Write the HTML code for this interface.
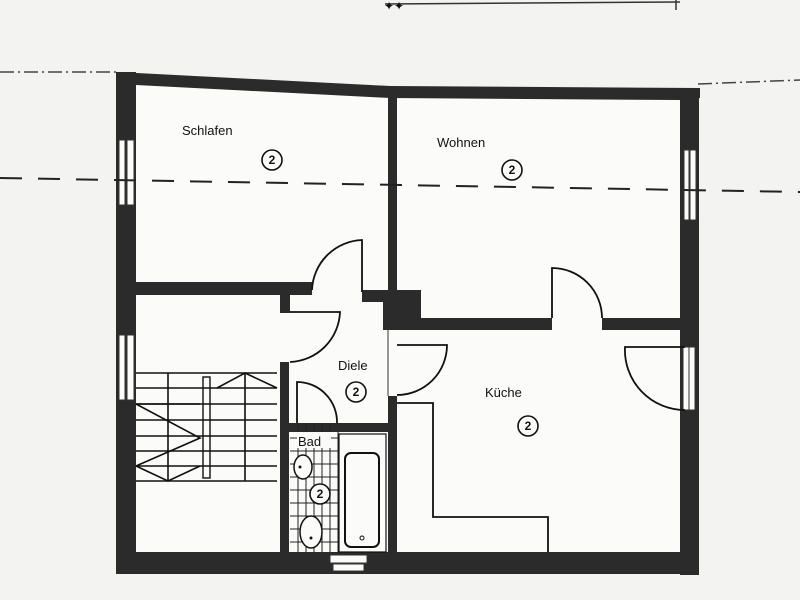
<!DOCTYPE html>
<html><head><meta charset="utf-8"><style>
html,body{margin:0;padding:0;background:#f3f3f1;}
svg{display:block}
text{font-family:"Liberation Sans",sans-serif;fill:#111}
</style></head><body>
<svg width="800" height="600" viewBox="0 0 800 600" xmlns="http://www.w3.org/2000/svg">
<rect width="800" height="600" fill="#f3f3f1"/>
<!-- top marks -->
<line x1="385" y1="4" x2="680" y2="2" stroke="#333" stroke-width="1.5"/>
<text x="384" y="10" font-size="12">✦✦</text>
<line x1="676" y1="0" x2="676" y2="10" stroke="#333" stroke-width="1.5"/>
<!-- dash-dot lines -->
<line x1="0" y1="72" x2="116" y2="72" stroke="#444" stroke-width="1.5" stroke-dasharray="14 4 2 4"/>
<line x1="698" y1="84" x2="800" y2="80" stroke="#444" stroke-width="1.5" stroke-dasharray="14 4 2 4"/>
<!-- white interior -->
<polygon points="136,84 390,97 680,98 680,552 136,552" fill="#fbfbfa"/>
<g fill="#2b2b2b">
<!-- outer walls -->
<polygon points="116,72 390,86 700,88 700,98 680,100 390,98 136,85"/>
<rect x="116" y="72" width="20" height="500"/>
<rect x="680" y="88" width="19" height="487"/>
<rect x="116" y="552" width="583" height="22"/>
<!-- Schlafen/Wohnen wall -->
<rect x="388" y="94" width="9" height="458"/>
<!-- Schlafen bottom wall -->
<rect x="136" y="282" width="176" height="13"/>
<rect x="362" y="290" width="30" height="12"/>
<rect x="280" y="295" width="10" height="18"/>
<rect x="280" y="362" width="9" height="190"/>
<!-- pillar -->
<rect x="383" y="290" width="38" height="40"/>
<!-- Wohnen/Kueche wall -->
<rect x="397" y="318" width="155" height="12"/>
<rect x="602" y="318" width="80" height="12"/>
<!-- bath wall -->
<rect x="289" y="423" width="100" height="9"/>
</g>
<!-- window gaps -->
<g fill="#fbfbfa" stroke="#333" stroke-width="1">
<rect x="119" y="140" width="6" height="65"/><rect x="127" y="140" width="7" height="65"/>
<rect x="119" y="335" width="6" height="65"/><rect x="127" y="335" width="7" height="65"/>
<rect x="684" y="150" width="5" height="70"/><rect x="690" y="150" width="6" height="70"/>
<rect x="683" y="347" width="6" height="63"/><rect x="689" y="347" width="6" height="63"/>
<rect x="330" y="555" width="37" height="8"/><rect x="333" y="564" width="31" height="7"/>
</g>
<rect x="381" y="330" width="18" height="66" fill="#fbfbfa"/>
<line x1="388" y1="330" x2="388" y2="396" stroke="#333"/>
<!-- main dashed line -->
<line x1="0" y1="178" x2="800" y2="192" stroke="#222" stroke-width="2" stroke-dasharray="22 16"/>
<!-- doors -->
<g fill="none" stroke="#111" stroke-width="1.8">
<path d="M362,292 L362,240 A52,52 0 0 0 312,290"/>
<path d="M290,312 L340,312 A52,52 0 0 1 290,362"/>
<path d="M397,345 L447,345 A50,50 0 0 1 397,395"/>
<path d="M552,318 L552,268 A50,50 0 0 1 602,318"/>
<path d="M685,347 L625,347 A60,60 0 0 0 685,410"/>
<path d="M297,423 L297,382 A40,40 0 0 1 337,423"/>
<!-- kitchen counter -->
<path d="M397,403 L433,403 L433,517 L548,517 L548,552"/>
</g>
<!-- stairs -->
<g stroke="#111" stroke-width="1.6" fill="none">
<line x1="136" y1="373" x2="277" y2="373"/>
<line x1="136" y1="388" x2="277" y2="388"/>
<line x1="136" y1="404" x2="277" y2="404"/>
<line x1="136" y1="420" x2="277" y2="420"/>
<line x1="136" y1="436" x2="277" y2="436"/>
<line x1="136" y1="451" x2="277" y2="451"/>
<line x1="136" y1="466" x2="277" y2="466"/>
<line x1="136" y1="481" x2="277" y2="481"/>
<line x1="168" y1="373" x2="168" y2="481"/>
<line x1="245" y1="373" x2="245" y2="481"/>
<path d="M136,404 L200,438 L136,466"/>
<path d="M136,404 L200,404"/>
<path d="M217,388 L245,373 L277,388"/>
<path d="M136,466 L168,481 L200,466"/>
<rect x="203" y="377" width="7" height="101" stroke-width="1.4"/>
</g>
<!-- bath tiles -->
<g stroke="#222" stroke-width="1">
<line x1="290" y1="438" x2="338" y2="438"/><line x1="290" y1="451" x2="338" y2="451"/>
<line x1="290" y1="464" x2="338" y2="464"/><line x1="290" y1="477" x2="338" y2="477"/>
<line x1="290" y1="490" x2="338" y2="490"/><line x1="290" y1="503" x2="338" y2="503"/>
<line x1="290" y1="516" x2="338" y2="516"/><line x1="290" y1="529" x2="338" y2="529"/>
<line x1="290" y1="542" x2="338" y2="542"/>
<line x1="298" y1="425" x2="298" y2="552"/><line x1="306" y1="425" x2="306" y2="552"/>
<line x1="314" y1="425" x2="314" y2="552"/><line x1="322" y1="425" x2="322" y2="552"/>
<line x1="330" y1="425" x2="330" y2="552"/><line x1="338" y1="432" x2="338" y2="552"/>
</g>
<rect x="297" y="432" width="34" height="16" fill="#fbfbfa"/>
<text x="298" y="446" font-size="13">Bad</text>
<ellipse cx="303" cy="467" rx="9" ry="12" fill="#fbfbfa" stroke="#111" stroke-width="1.5"/>
<circle cx="300" cy="467" r="1.5" fill="#111"/>
<ellipse cx="311" cy="532" rx="11" ry="16" fill="#fbfbfa" stroke="#111" stroke-width="1.5"/>
<circle cx="311" cy="538" r="1.5" fill="#111"/>
<!-- tub -->
<rect x="339" y="434" width="47" height="118" fill="#fbfbfa" stroke="#111" stroke-width="1.2"/>
<rect x="345" y="453" width="34" height="94" rx="6" fill="#fbfbfa" stroke="#111" stroke-width="2"/>
<circle cx="362" cy="538" r="2" fill="none" stroke="#111"/>
<!-- labels -->
<g font-size="13">
<text x="182" y="135">Schlafen</text>
<text x="437" y="147">Wohnen</text>
<text x="338" y="370">Diele</text>
<text x="485" y="397">Küche</text>
</g>
<g fill="#fbfbfa" stroke="#111" stroke-width="1.6">
<circle cx="272" cy="160" r="10"/><circle cx="512" cy="170" r="10"/>
<circle cx="356" cy="392" r="10"/><circle cx="528" cy="426" r="10"/>
<circle cx="320" cy="494" r="10"/>
</g>
<g font-size="12" font-weight="bold" text-anchor="middle">
<text x="272" y="164">2</text><text x="512" y="174">2</text>
<text x="356" y="396">2</text><text x="528" y="430">2</text>
<text x="320" y="498">2</text>
</g>
</svg>
</body></html>
